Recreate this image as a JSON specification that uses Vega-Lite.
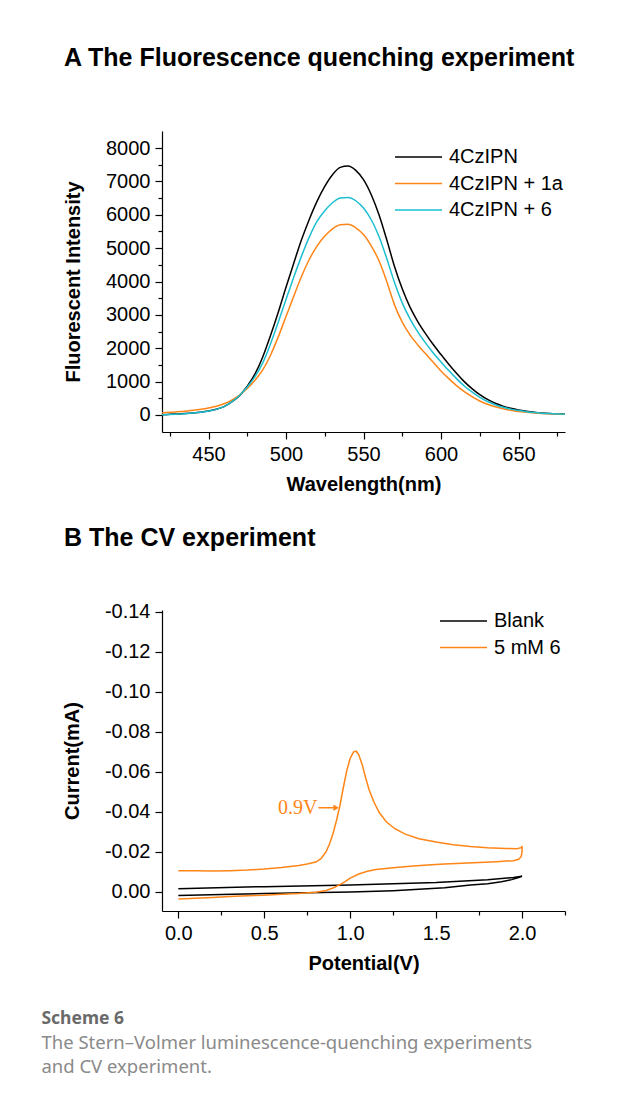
{
  "$schema": "https://vega.github.io/schema/vega-lite/v6.json",
  "background": "white",
  "padding": {"left": 41, "top": 46, "right": 0, "bottom": 0},
  "spacing": 31,
  "resolve": {"scale": {"color": "independent"}, "legend": {"color": "independent"}},
  "config": {
    "font": "Liberation Sans",
    "view": {"stroke": null},
    "axis": {
      "labelFont": "Liberation Sans", "labelFontSize": 20, "labelColor": "black",
      "titleFont": "Liberation Sans", "titleFontSize": 20, "titleFontWeight": "bold", "titleColor": "black",
      "domainColor": "black", "domainWidth": 1.2, "tickColor": "black", "tickWidth": 1.2,
      "grid": false, "labelPadding": 5, "labelOverlap": false, "labelFlush": false
    },
    "axisY": {"titlePadding": 22},
    "axisX": {"titlePadding": 10},
    "legend": {
      "orient": "none", "symbolType": "stroke", "symbolSize": 2209, "symbolStrokeWidth": 1.5,
      "labelFont": "Liberation Sans", "labelFontSize": 20, "labelColor": "black", "labelOffset": 6,
      "clipHeight": 26, "rowPadding": 0.5, "padding": 0, "title": null
    }
  },
  "title": {
    "text": "Scheme 6",
    "subtitle": ["The Stern\u2013Volmer luminescence-quenching experiments", "and CV experiment."],
    "orient": "bottom", "anchor": "start", "frame": "bounds", "dx": -21, "offset": 37,
    "font": "Noto Sans", "fontSize": 17.5, "fontWeight": "bold", "color": "#6a6a6a",
    "subtitleFont": "Noto Sans", "subtitleFontSize": 18.5, "subtitleColor": "#8a8a8a",
    "subtitlePadding": 6, "subtitleLineHeight": 24
  },
  "vconcat": [
    {
      "width": 403, "height": 301,
      "title": {"text": "A  The Fluorescence quenching experiment", "anchor": "start", "frame": "group", "dx": -98, "fontSize": 25, "fontWeight": "bold", "font": "Liberation Sans", "color": "black", "offset": 60},
      "data": {"values": [
        {"w":420,"s":"4CzIPN","v":10},{"w":425,"s":"4CzIPN","v":20},{"w":430,"s":"4CzIPN","v":32},{"w":435,"s":"4CzIPN","v":45},{"w":440,"s":"4CzIPN","v":62},{"w":445,"s":"4CzIPN","v":85},{"w":450,"s":"4CzIPN","v":120},{"w":455,"s":"4CzIPN","v":170},{"w":460,"s":"4CzIPN","v":250},{"w":465,"s":"4CzIPN","v":390},{"w":470,"s":"4CzIPN","v":580},{"w":475,"s":"4CzIPN","v":860},{"w":480,"s":"4CzIPN","v":1230},{"w":485,"s":"4CzIPN","v":1740},{"w":490,"s":"4CzIPN","v":2380},{"w":495,"s":"4CzIPN","v":3080},{"w":500,"s":"4CzIPN","v":3830},{"w":505,"s":"4CzIPN","v":4550},{"w":510,"s":"4CzIPN","v":5250},{"w":515,"s":"4CzIPN","v":5860},{"w":520,"s":"4CzIPN","v":6400},{"w":525,"s":"4CzIPN","v":6850},{"w":530,"s":"4CzIPN","v":7200},{"w":535,"s":"4CzIPN","v":7420},{"w":540,"s":"4CzIPN","v":7460},{"w":545,"s":"4CzIPN","v":7330},{"w":550,"s":"4CzIPN","v":7050},{"w":555,"s":"4CzIPN","v":6600},{"w":560,"s":"4CzIPN","v":6000},{"w":565,"s":"4CzIPN","v":5250},{"w":570,"s":"4CzIPN","v":4450},{"w":575,"s":"4CzIPN","v":3780},{"w":580,"s":"4CzIPN","v":3230},{"w":585,"s":"4CzIPN","v":2800},{"w":590,"s":"4CzIPN","v":2440},{"w":595,"s":"4CzIPN","v":2110},{"w":600,"s":"4CzIPN","v":1810},{"w":605,"s":"4CzIPN","v":1520},{"w":610,"s":"4CzIPN","v":1250},{"w":615,"s":"4CzIPN","v":1000},{"w":620,"s":"4CzIPN","v":790},{"w":625,"s":"4CzIPN","v":610},{"w":630,"s":"4CzIPN","v":465},{"w":635,"s":"4CzIPN","v":350},{"w":640,"s":"4CzIPN","v":265},{"w":645,"s":"4CzIPN","v":200},{"w":650,"s":"4CzIPN","v":150},{"w":655,"s":"4CzIPN","v":112},{"w":660,"s":"4CzIPN","v":82},{"w":665,"s":"4CzIPN","v":60},{"w":670,"s":"4CzIPN","v":45},{"w":675,"s":"4CzIPN","v":35},{"w":680,"s":"4CzIPN","v":28},
        {"w":420,"s":"4CzIPN + 1a","v":65},{"w":425,"s":"4CzIPN + 1a","v":80},{"w":430,"s":"4CzIPN + 1a","v":95},{"w":435,"s":"4CzIPN + 1a","v":115},{"w":440,"s":"4CzIPN + 1a","v":140},{"w":445,"s":"4CzIPN + 1a","v":170},{"w":450,"s":"4CzIPN + 1a","v":210},{"w":455,"s":"4CzIPN + 1a","v":262},{"w":460,"s":"4CzIPN + 1a","v":338},{"w":465,"s":"4CzIPN + 1a","v":448},{"w":470,"s":"4CzIPN + 1a","v":598},{"w":475,"s":"4CzIPN + 1a","v":795},{"w":480,"s":"4CzIPN + 1a","v":1040},{"w":485,"s":"4CzIPN + 1a","v":1350},{"w":490,"s":"4CzIPN + 1a","v":1790},{"w":495,"s":"4CzIPN + 1a","v":2340},{"w":500,"s":"4CzIPN + 1a","v":2950},{"w":505,"s":"4CzIPN + 1a","v":3560},{"w":510,"s":"4CzIPN + 1a","v":4150},{"w":515,"s":"4CzIPN + 1a","v":4660},{"w":520,"s":"4CzIPN + 1a","v":5060},{"w":525,"s":"4CzIPN + 1a","v":5360},{"w":530,"s":"4CzIPN + 1a","v":5580},{"w":535,"s":"4CzIPN + 1a","v":5700},{"w":540,"s":"4CzIPN + 1a","v":5715},{"w":545,"s":"4CzIPN + 1a","v":5610},{"w":550,"s":"4CzIPN + 1a","v":5410},{"w":555,"s":"4CzIPN + 1a","v":5070},{"w":560,"s":"4CzIPN + 1a","v":4620},{"w":565,"s":"4CzIPN + 1a","v":4000},{"w":570,"s":"4CzIPN + 1a","v":3300},{"w":575,"s":"4CzIPN + 1a","v":2780},{"w":580,"s":"4CzIPN + 1a","v":2400},{"w":585,"s":"4CzIPN + 1a","v":2100},{"w":590,"s":"4CzIPN + 1a","v":1840},{"w":595,"s":"4CzIPN + 1a","v":1580},{"w":600,"s":"4CzIPN + 1a","v":1320},{"w":605,"s":"4CzIPN + 1a","v":1090},{"w":610,"s":"4CzIPN + 1a","v":880},{"w":615,"s":"4CzIPN + 1a","v":700},{"w":620,"s":"4CzIPN + 1a","v":550},{"w":625,"s":"4CzIPN + 1a","v":420},{"w":630,"s":"4CzIPN + 1a","v":320},{"w":635,"s":"4CzIPN + 1a","v":245},{"w":640,"s":"4CzIPN + 1a","v":185},{"w":645,"s":"4CzIPN + 1a","v":140},{"w":650,"s":"4CzIPN + 1a","v":105},{"w":655,"s":"4CzIPN + 1a","v":80},{"w":660,"s":"4CzIPN + 1a","v":60},{"w":665,"s":"4CzIPN + 1a","v":45},{"w":670,"s":"4CzIPN + 1a","v":35},{"w":675,"s":"4CzIPN + 1a","v":28},{"w":680,"s":"4CzIPN + 1a","v":22},
        {"w":420,"s":"4CzIPN + 6","v":8},{"w":425,"s":"4CzIPN + 6","v":16},{"w":430,"s":"4CzIPN + 6","v":27},{"w":435,"s":"4CzIPN + 6","v":40},{"w":440,"s":"4CzIPN + 6","v":58},{"w":445,"s":"4CzIPN + 6","v":82},{"w":450,"s":"4CzIPN + 6","v":118},{"w":455,"s":"4CzIPN + 6","v":168},{"w":460,"s":"4CzIPN + 6","v":250},{"w":465,"s":"4CzIPN + 6","v":390},{"w":470,"s":"4CzIPN + 6","v":585},{"w":475,"s":"4CzIPN + 6","v":840},{"w":480,"s":"4CzIPN + 6","v":1150},{"w":485,"s":"4CzIPN + 6","v":1560},{"w":490,"s":"4CzIPN + 6","v":2130},{"w":495,"s":"4CzIPN + 6","v":2780},{"w":500,"s":"4CzIPN + 6","v":3460},{"w":505,"s":"4CzIPN + 6","v":4130},{"w":510,"s":"4CzIPN + 6","v":4760},{"w":515,"s":"4CzIPN + 6","v":5330},{"w":520,"s":"4CzIPN + 6","v":5800},{"w":525,"s":"4CzIPN + 6","v":6120},{"w":530,"s":"4CzIPN + 6","v":6360},{"w":535,"s":"4CzIPN + 6","v":6500},{"w":540,"s":"4CzIPN + 6","v":6520},{"w":545,"s":"4CzIPN + 6","v":6420},{"w":550,"s":"4CzIPN + 6","v":6200},{"w":555,"s":"4CzIPN + 6","v":5850},{"w":560,"s":"4CzIPN + 6","v":5350},{"w":565,"s":"4CzIPN + 6","v":4690},{"w":570,"s":"4CzIPN + 6","v":3970},{"w":575,"s":"4CzIPN + 6","v":3360},{"w":580,"s":"4CzIPN + 6","v":2880},{"w":585,"s":"4CzIPN + 6","v":2490},{"w":590,"s":"4CzIPN + 6","v":2160},{"w":595,"s":"4CzIPN + 6","v":1860},{"w":600,"s":"4CzIPN + 6","v":1590},{"w":605,"s":"4CzIPN + 6","v":1330},{"w":610,"s":"4CzIPN + 6","v":1090},{"w":615,"s":"4CzIPN + 6","v":870},{"w":620,"s":"4CzIPN + 6","v":690},{"w":625,"s":"4CzIPN + 6","v":530},{"w":630,"s":"4CzIPN + 6","v":405},{"w":635,"s":"4CzIPN + 6","v":305},{"w":640,"s":"4CzIPN + 6","v":232},{"w":645,"s":"4CzIPN + 6","v":175},{"w":650,"s":"4CzIPN + 6","v":132},{"w":655,"s":"4CzIPN + 6","v":98},{"w":660,"s":"4CzIPN + 6","v":73},{"w":665,"s":"4CzIPN + 6","v":54},{"w":670,"s":"4CzIPN + 6","v":41},{"w":675,"s":"4CzIPN + 6","v":32},{"w":680,"s":"4CzIPN + 6","v":25}
      ]},
      "mark": {"type": "line", "strokeWidth": 1.5, "clip": true, "interpolate": "monotone"},
      "encoding": {
        "x": {"field": "w", "type": "quantitative", "title": "Wavelength(nm)",
          "scale": {"domain": [420, 680], "nice": false, "zero": false},
          "axis": {"values": [425,450,475,500,525,550,575,600,625,650,675],
            "labelExpr": "datum.value % 50 === 0 ? datum.label : ''",
            "tickSize": {"condition": {"test": "datum.value % 50 === 0", "value": 7}, "value": 4}}},
        "y": {"field": "v", "type": "quantitative", "title": "Fluorescent Intensity",
          "scale": {"domain": [-510, 8510], "nice": false, "zero": false},
          "axis": {"values": [0,500,1000,1500,2000,2500,3000,3500,4000,4500,5000,5500,6000,6500,7000,7500,8000], "format": "d",
            "labelExpr": "datum.value % 1000 === 0 ? datum.label : ''",
            "tickSize": {"condition": {"test": "datum.value % 1000 === 0", "value": 7}, "value": 4}}},
        "color": {"field": "s", "type": "nominal",
          "scale": {"domain": ["4CzIPN", "4CzIPN + 1a", "4CzIPN + 6"], "range": ["#000000", "#FF8516", "#1BBFD0"]},
          "legend": {"legendX": 232, "legendY": 13}}
      }
    },
    {
      "width": 403, "height": 301,
      "title": {"text": "B  The CV experiment", "anchor": "start", "frame": "group", "dx": -98, "fontSize": 25, "fontWeight": "bold", "font": "Liberation Sans", "color": "black", "offset": 51},
      "layer": [
        {
          "data": {"values": [
            {"i":0,"s":"Blank","V":0.0,"I":-0.0015},{"i":1,"s":"Blank","V":0.5,"I":-0.0025},{"i":2,"s":"Blank","V":1.0,"I":-0.0033},{"i":3,"s":"Blank","V":1.5,"I":-0.0046},{"i":4,"s":"Blank","V":1.8,"I":-0.006},{"i":5,"s":"Blank","V":1.95,"I":-0.0071},{"i":6,"s":"Blank","V":2.0,"I":-0.0077},
            {"i":7,"s":"Blank","V":1.98,"I":-0.007},{"i":8,"s":"Blank","V":1.94,"I":-0.006},{"i":9,"s":"Blank","V":1.88,"I":-0.005},{"i":10,"s":"Blank","V":1.8,"I":-0.004},{"i":11,"s":"Blank","V":1.7,"I":-0.0033},{"i":12,"s":"Blank","V":1.55,"I":-0.002},{"i":13,"s":"Blank","V":1.4,"I":-0.0012},{"i":14,"s":"Blank","V":1.25,"I":-0.0005},{"i":15,"s":"Blank","V":1.0,"I":0.0002},{"i":16,"s":"Blank","V":0.75,"I":0.0006},{"i":17,"s":"Blank","V":0.5,"I":0.001},{"i":18,"s":"Blank","V":0.25,"I":0.0015},{"i":19,"s":"Blank","V":0.0,"I":0.002},
            {"i":0,"s":"5 mM 6","V":0.0,"I":-0.0105},{"i":1,"s":"5 mM 6","V":0.1,"I":-0.0104},{"i":2,"s":"5 mM 6","V":0.2,"I":-0.0103},{"i":3,"s":"5 mM 6","V":0.3,"I":-0.0105},{"i":4,"s":"5 mM 6","V":0.4,"I":-0.0108},{"i":5,"s":"5 mM 6","V":0.5,"I":-0.0113},{"i":6,"s":"5 mM 6","V":0.6,"I":-0.0121},{"i":7,"s":"5 mM 6","V":0.7,"I":-0.0131},{"i":8,"s":"5 mM 6","V":0.75,"I":-0.0138},{"i":9,"s":"5 mM 6","V":0.8,"I":-0.0148},{"i":10,"s":"5 mM 6","V":0.83,"I":-0.0165},{"i":11,"s":"5 mM 6","V":0.86,"I":-0.02},{"i":12,"s":"5 mM 6","V":0.88,"I":-0.024},{"i":13,"s":"5 mM 6","V":0.9,"I":-0.029},{"i":14,"s":"5 mM 6","V":0.92,"I":-0.0355},{"i":15,"s":"5 mM 6","V":0.94,"I":-0.043},{"i":16,"s":"5 mM 6","V":0.96,"I":-0.052},{"i":17,"s":"5 mM 6","V":0.98,"I":-0.0605},{"i":18,"s":"5 mM 6","V":1.0,"I":-0.0668},{"i":19,"s":"5 mM 6","V":1.02,"I":-0.07},{"i":20,"s":"5 mM 6","V":1.035,"I":-0.0703},{"i":21,"s":"5 mM 6","V":1.05,"I":-0.0685},{"i":22,"s":"5 mM 6","V":1.07,"I":-0.0635},{"i":23,"s":"5 mM 6","V":1.09,"I":-0.057},{"i":24,"s":"5 mM 6","V":1.11,"I":-0.051},{"i":25,"s":"5 mM 6","V":1.14,"I":-0.0445},{"i":26,"s":"5 mM 6","V":1.17,"I":-0.0395},{"i":27,"s":"5 mM 6","V":1.21,"I":-0.035},{"i":28,"s":"5 mM 6","V":1.26,"I":-0.0315},{"i":29,"s":"5 mM 6","V":1.32,"I":-0.0288},{"i":30,"s":"5 mM 6","V":1.4,"I":-0.0265},{"i":31,"s":"5 mM 6","V":1.5,"I":-0.0248},{"i":32,"s":"5 mM 6","V":1.6,"I":-0.0235},{"i":33,"s":"5 mM 6","V":1.7,"I":-0.0226},{"i":34,"s":"5 mM 6","V":1.8,"I":-0.022},{"i":35,"s":"5 mM 6","V":1.9,"I":-0.0216},{"i":36,"s":"5 mM 6","V":1.97,"I":-0.0215},{"i":37,"s":"5 mM 6","V":1.995,"I":-0.022},{"i":38,"s":"5 mM 6","V":2.0,"I":-0.0228},{"i":39,"s":"5 mM 6","V":2.0,"I":-0.02},{"i":40,"s":"5 mM 6","V":1.995,"I":-0.0175},{"i":41,"s":"5 mM 6","V":1.98,"I":-0.0162},{"i":42,"s":"5 mM 6","V":1.95,"I":-0.0155},{"i":43,"s":"5 mM 6","V":1.85,"I":-0.015},{"i":44,"s":"5 mM 6","V":1.75,"I":-0.0146},{"i":45,"s":"5 mM 6","V":1.65,"I":-0.0142},{"i":46,"s":"5 mM 6","V":1.55,"I":-0.0138},{"i":47,"s":"5 mM 6","V":1.45,"I":-0.0133},{"i":48,"s":"5 mM 6","V":1.35,"I":-0.0127},{"i":49,"s":"5 mM 6","V":1.25,"I":-0.012},{"i":50,"s":"5 mM 6","V":1.15,"I":-0.0111},{"i":51,"s":"5 mM 6","V":1.1,"I":-0.0102},{"i":52,"s":"5 mM 6","V":1.05,"I":-0.0088},{"i":53,"s":"5 mM 6","V":1.0,"I":-0.0068},{"i":54,"s":"5 mM 6","V":0.97,"I":-0.005},{"i":55,"s":"5 mM 6","V":0.94,"I":-0.0035},{"i":56,"s":"5 mM 6","V":0.9,"I":-0.0018},{"i":57,"s":"5 mM 6","V":0.86,"I":-0.0006},{"i":58,"s":"5 mM 6","V":0.8,"I":0.0003},{"i":59,"s":"5 mM 6","V":0.7,"I":0.0009},{"i":60,"s":"5 mM 6","V":0.6,"I":0.0013},{"i":61,"s":"5 mM 6","V":0.5,"I":0.0018},{"i":62,"s":"5 mM 6","V":0.4,"I":0.0021},{"i":63,"s":"5 mM 6","V":0.3,"I":0.0025},{"i":64,"s":"5 mM 6","V":0.2,"I":0.0029},{"i":65,"s":"5 mM 6","V":0.1,"I":0.0033},{"i":66,"s":"5 mM 6","V":0.0,"I":0.0037}
          ]},
          "mark": {"type": "line", "strokeWidth": 1.5, "clip": true},
          "encoding": {
            "x": {"field": "V", "type": "quantitative", "title": "Potential(V)",
              "scale": {"domain": [-0.095, 2.25], "nice": false, "zero": false},
              "axis": {"values": [0,0.25,0.5,0.75,1,1.25,1.5,1.75,2,2.25],
                "labelExpr": "round(datum.value*4) % 2 === 0 ? format(datum.value, '.1f') : ''",
                "tickSize": {"condition": {"test": "round(datum.value*4) % 2 === 0", "value": 7}, "value": 4}}},
            "y": {"field": "I", "type": "quantitative", "title": "Current(mA)",
              "scale": {"domain": [-0.141, 0.0097], "nice": false, "zero": false, "reverse": true},
              "axis": {"values": [-0.14,-0.13,-0.12,-0.11,-0.1,-0.09,-0.08,-0.07,-0.06,-0.05,-0.04,-0.03,-0.02,-0.01,0],
                "labelExpr": "abs(round(datum.value*100)) % 2 === 0 ? (datum.value < -0.0001 ? '-' : '') + format(abs(datum.value), '.2f') : ''",
                "tickSize": {"condition": {"test": "abs(round(datum.value*100)) % 2 === 0", "value": 7}, "value": 4}}},
            "order": {"field": "i", "type": "quantitative"},
            "color": {"field": "s", "type": "nominal",
              "scale": {"domain": ["Blank", "5 mM 6"], "range": ["#000000", "#FF8516"]},
              "legend": {"legendX": 277, "legendY": -2}}
          }
        },
        {
          "data": {"values": [{"V": 0.81, "I": -0.042, "t": "0.9V"}]},
          "mark": {"type": "text", "align": "right", "baseline": "middle", "font": "Liberation Serif", "fontSize": 20, "color": "#FF8516"},
          "encoding": {"x": {"field": "V", "type": "quantitative"}, "y": {"field": "I", "type": "quantitative"}, "text": {"field": "t"}}
        },
        {
          "data": {"values": [{"V": 0.815, "V2": 0.915, "I": -0.042}]},
          "mark": {"type": "rule", "color": "#FF8516", "strokeWidth": 1.5},
          "encoding": {"x": {"field": "V", "type": "quantitative"}, "x2": {"field": "V2"}, "y": {"field": "I", "type": "quantitative"}}
        },
        {
          "data": {"values": [{"V": 0.918, "I": -0.042}]},
          "mark": {"type": "point", "shape": "triangle-right", "filled": true, "size": 40, "color": "#FF8516", "opacity": 1},
          "encoding": {"x": {"field": "V", "type": "quantitative"}, "y": {"field": "I", "type": "quantitative"}}
        }
      ]
    }
  ]
}
